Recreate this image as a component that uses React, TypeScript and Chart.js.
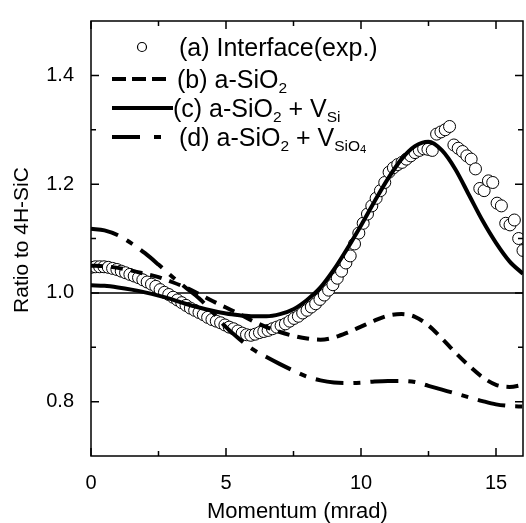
import { useEffect, useRef } from 'react';
import { Chart, registerables } from 'chart.js';
Chart.register(...registerables);

const FONT = '"Liberation Sans", Arial, Helvetica, sans-serif';

const xTicks = [0, 5, 10, 15];
const xMinorTicks = [2.5, 7.5, 12.5];
const yTicks = [0.8, 1.0, 1.2, 1.4];
const yMinorTicks = [0.9, 1.1, 1.3];
const xRange = [0, 16];
const yRange = [0.7, 1.5];
const xTitle = 'Momentum (mrad)';
const yTitle = 'Ratio to 4H-SiC';

const legendLabels = ['(a) Interface(exp.)', '(b) a-SiO2', '(c) a-SiO2 + VSi', '(d) a-SiO2 + VSiO4'];

// experimental points (a)
const expMomentum = [
  0, 0.16, 0.32, 0.48, 0.64, 0.8, 0.96, 1.12, 1.28, 1.44,
  1.6, 1.76, 1.92, 2.08, 2.24, 2.4, 2.56, 2.72, 2.88, 3.04,
  3.2, 3.36, 3.52, 3.68, 3.84, 4.0, 4.16, 4.32, 4.48, 4.64,
  4.8, 4.96, 5.12, 5.28, 5.44, 5.6, 5.76, 5.92, 6.08, 6.24,
  6.4, 6.56, 6.72, 6.88, 7.04, 7.2, 7.36, 7.52, 7.68, 7.84,
  8.0, 8.16, 8.32, 8.48, 8.64, 8.8, 8.96, 9.12, 9.28, 9.44,
  9.6, 9.76, 9.92, 10.08, 10.24, 10.4, 10.56, 10.72, 10.88, 11.04,
  11.2, 11.36, 11.52, 11.68, 11.84, 12.0, 12.16, 12.32, 12.48, 12.64,
  12.8, 12.96, 13.12, 13.28, 13.44, 13.6, 13.76, 13.92, 14.08, 14.24,
  14.4, 14.56, 14.72, 14.88, 15.04, 15.2, 15.36, 15.52, 15.68, 15.84, 16.0,
];
const expRatio = [
  1.047, 1.048, 1.048, 1.048, 1.047, 1.045, 1.043, 1.040, 1.037, 1.034,
  1.031, 1.028, 1.024, 1.020, 1.016, 1.012, 1.006, 1.001, 0.997, 0.992,
  0.987, 0.982, 0.977, 0.972, 0.968, 0.964, 0.960, 0.955, 0.951, 0.948,
  0.945, 0.941, 0.937, 0.934, 0.930, 0.926, 0.923, 0.922, 0.924, 0.927,
  0.929, 0.931, 0.934, 0.937, 0.940, 0.943, 0.948, 0.953, 0.957, 0.963,
  0.968, 0.974, 0.980, 0.988, 0.996, 1.005, 1.015, 1.027, 1.040, 1.055,
  1.068, 1.090, 1.110, 1.128, 1.145, 1.160, 1.174, 1.188, 1.203, 1.222,
  1.230, 1.236, 1.240, 1.246, 1.252, 1.258, 1.262, 1.265, 1.264, 1.262,
  1.292, 1.296, 1.300, 1.306, 1.272, 1.266, 1.260, 1.252, 1.246, 1.228,
  1.192, 1.188, 1.206, 1.203, 1.165, 1.160, 1.128, 1.125, 1.134, 1.100, 1.078,
];

// model curves
const modelMomentum = [
  0, 0.5, 1, 1.5, 2, 2.5, 3, 3.5, 4, 4.5, 5, 5.5, 6, 6.5, 7, 7.5,
  8, 8.5, 9, 9.5, 10, 10.5, 11, 11.5, 12, 12.5, 13, 13.5, 14, 14.5, 15, 15.5, 16,
];
const aSiO2 = [
  1.050, 1.049, 1.046, 1.041, 1.035, 1.029, 1.020, 1.010, 0.998, 0.985, 0.973, 0.961, 0.948, 0.937, 0.928, 0.921,
  0.916, 0.914, 0.918, 0.927, 0.938, 0.949, 0.958, 0.961, 0.956, 0.940, 0.916, 0.890, 0.866, 0.845, 0.831, 0.827, 0.831,
];
const aSiO2VSi = [
  1.014, 1.013, 1.010, 1.006, 1.001, 0.995, 0.988, 0.980, 0.973, 0.967, 0.962, 0.959, 0.957, 0.957, 0.961, 0.970,
  0.987, 1.010, 1.043, 1.082, 1.124, 1.168, 1.210, 1.246, 1.270, 1.278, 1.262, 1.227, 1.180, 1.133, 1.092, 1.058, 1.035,
];
const aSiO2VSiO4 = [
  1.118, 1.115, 1.106, 1.091, 1.073, 1.052, 1.030, 1.010, 0.990, 0.965, 0.937, 0.915, 0.896, 0.882, 0.869, 0.857,
  0.846, 0.839, 0.835, 0.834, 0.835, 0.837, 0.838, 0.838, 0.836, 0.829, 0.822, 0.815, 0.808, 0.801, 0.795, 0.792, 0.791,
];
const refMomentum = [0, 16];
const refRatio = [1.0, 1.0];

const pts = (xs: number[], ys: number[]) => xs.map((x, i) => ({ x, y: ys[i] }));

type Part = { t: string; lvl: number };
function drawRich(ctx: CanvasRenderingContext2D, parts: Part[], x: number, y: number, size: number) {
  let cx = x;
  for (const p of parts) {
    const s = p.lvl === 0 ? size : p.lvl === 1 ? size * 0.62 : size * 0.45;
    const dy = p.lvl === 0 ? 0 : p.lvl === 1 ? size * 0.2 : size * 0.26;
    ctx.font = `${s}px ${FONT}`;
    ctx.textBaseline = 'alphabetic';
    ctx.textAlign = 'left';
    ctx.fillText(p.t, cx, y + dy);
    cx += ctx.measureText(p.t).width;
  }
}

const framePlugin = {
  id: 'frameAndLegend',
  afterDraw(chart: any) {
    const { ctx, chartArea } = chart;
    const { left, right, top, bottom } = chartArea;
    const xs = chart.scales.x;
    const ys = chart.scales.y;
    ctx.save();
    ctx.strokeStyle = '#000';
    ctx.lineWidth = 1.5;
    ctx.strokeRect(left, top, right - left, bottom - top);
    const major = 8;
    const minor = 5;
    ctx.beginPath();
    const xt = (vals: number[], len: number) => {
      for (const v of vals) {
        const px = xs.getPixelForValue(v);
        ctx.moveTo(px, bottom);
        ctx.lineTo(px, bottom - len);
        ctx.moveTo(px, top);
        ctx.lineTo(px, top + len);
      }
    };
    const yt = (vals: number[], len: number) => {
      for (const v of vals) {
        const py = ys.getPixelForValue(v);
        ctx.moveTo(left, py);
        ctx.lineTo(left + len, py);
        ctx.moveTo(right, py);
        ctx.lineTo(right - len, py);
      }
    };
    xt(xTicks, major);
    xt(xMinorTicks, minor);
    yt(yTicks, major);
    yt(yMinorTicks, minor);
    ctx.stroke();

    // axis titles
    ctx.fillStyle = '#000';
    ctx.font = `22px ${FONT}`;
    ctx.textAlign = 'left';
    ctx.textBaseline = 'alphabetic';
    ctx.fillText(xTitle, 207, 518);
    ctx.save();
    ctx.translate(22, 240);
    ctx.rotate(-Math.PI / 2);
    ctx.font = `21px ${FONT}`;
    ctx.textAlign = 'center';
    ctx.textBaseline = 'middle';
    ctx.fillText(yTitle, 0, 0);
    ctx.restore();

    // legend
    const size = 25;
    const rows = [47, 79, 108, 137];
    const x0 = 112;
    const tx = 179;
    ctx.strokeStyle = '#000';
    // (a)
    ctx.lineWidth = 1.2;
    ctx.beginPath();
    ctx.fillStyle = '#fff';
    ctx.arc(142, rows[0], 4.5, 0, Math.PI * 2);
    ctx.fill();
    ctx.stroke();
    ctx.fillStyle = '#000';
    // (b)
    ctx.lineWidth = 4;
    ctx.lineCap = 'butt';
    ctx.setLineDash([14, 6]);
    ctx.beginPath();
    ctx.moveTo(x0, rows[1]);
    ctx.lineTo(x0 + 56, rows[1]);
    ctx.stroke();
    // (c)
    ctx.setLineDash([]);
    ctx.beginPath();
    ctx.moveTo(x0, rows[2]);
    ctx.lineTo(x0 + 61, rows[2]);
    ctx.stroke();
    // (d)
    ctx.setLineDash([28, 14, 7, 14]);
    ctx.beginPath();
    ctx.moveTo(x0, rows[3]);
    ctx.lineTo(x0 + 50, rows[3]);
    ctx.stroke();
    ctx.setLineDash([]);

    const base = (r: number) => r + size * 0.36;
    drawRich(ctx, [{ t: '(a) Interface(exp.)', lvl: 0 }], tx, base(rows[0]), size);
    drawRich(ctx, [{ t: '(b) a-SiO', lvl: 0 }, { t: '2', lvl: 1 }], tx - 2, base(rows[1]), size);
    drawRich(ctx, [{ t: '(c) a-SiO', lvl: 0 }, { t: '2', lvl: 1 }, { t: ' + V', lvl: 0 }, { t: 'Si', lvl: 1 }], tx - 6, base(rows[2]), size);
    drawRich(ctx, [{ t: '(d) a-SiO', lvl: 0 }, { t: '2', lvl: 1 }, { t: ' + V', lvl: 0 }, { t: 'SiO', lvl: 1 }, { t: '4', lvl: 2 }], tx, base(rows[3]), size);
    ctx.restore();
  },
};

export default function App() {
  const ref = useRef<HTMLCanvasElement | null>(null);
  useEffect(() => {
    if (!ref.current) return;
    const lineBase = {
      showLine: true,
      pointRadius: 0,
      borderColor: '#000',
      borderWidth: 4,
      fill: false,
      cubicInterpolationMode: 'monotone' as const,
      borderCapStyle: 'butt' as const,
      order: 0,
    };
    const chart = new Chart(ref.current, {
      type: 'scatter',
      data: {
        datasets: [
          { ...lineBase, label: legendLabels[1], data: pts(modelMomentum, aSiO2), borderDash: [12, 8] },
          { ...lineBase, label: legendLabels[2], data: pts(modelMomentum, aSiO2VSi) },
          { ...lineBase, label: legendLabels[3], data: pts(modelMomentum, aSiO2VSiO4), borderDash: [28, 10, 7, 10] },
          {
            label: legendLabels[0],
            data: pts(expMomentum, expRatio),
            showLine: false,
            pointStyle: 'circle',
            pointRadius: 6,
            pointBorderWidth: 1,
            pointBorderColor: '#000',
            pointBackgroundColor: '#fff',
            order: 5,
          },
          {
            label: 'ref',
            data: pts(refMomentum, refRatio),
            showLine: true,
            pointRadius: 0,
            borderColor: '#000',
            borderWidth: 1.5,
            order: 6,
          },
        ],
      },
      options: {
        animation: false,
        responsive: false,
        layout: { padding: { top: 9, right: 3, left: 0, bottom: 0 } },
        plugins: { legend: { display: false }, tooltip: { enabled: false } },
        scales: {
          x: {
            type: 'linear',
            min: xRange[0],
            max: xRange[1],
            grid: { display: false },
            border: { display: false },
            afterBuildTicks: (s: any) => { s.ticks = xTicks.map((v) => ({ value: v })); },
            afterFit: (s: any) => { s.height = 67; },
            ticks: {
              color: '#000',
              font: { family: FONT, size: 20 },
              padding: 7,
              maxRotation: 0,
              autoSkip: false,
              callback: (v: any) => String(v),
            },
            title: { display: false, text: xTitle },
          },
          y: {
            type: 'linear',
            min: yRange[0],
            max: yRange[1],
            grid: { display: false },
            border: { display: false },
            afterBuildTicks: (s: any) => { s.ticks = yTicks.map((v) => ({ value: v })); },
            afterFit: (s: any) => { s.width = 91; },
            ticks: {
              color: '#000',
              font: { family: FONT, size: 20 },
              padding: 9,
              autoSkip: false,
              callback: (v: any) => Number(v).toFixed(1),
            },
            title: { display: false, text: yTitle },
          },
        },
      },
      plugins: [framePlugin],
    });
    return () => chart.destroy();
  }, []);
  return (
    <div style={{ position: 'fixed', left: 0, top: 0, width: 526, height: 523, overflow: 'hidden', background: '#fff' }}>
      <canvas ref={ref} width={530} height={523} style={{ display: 'block' }} />
    </div>
  );
}
